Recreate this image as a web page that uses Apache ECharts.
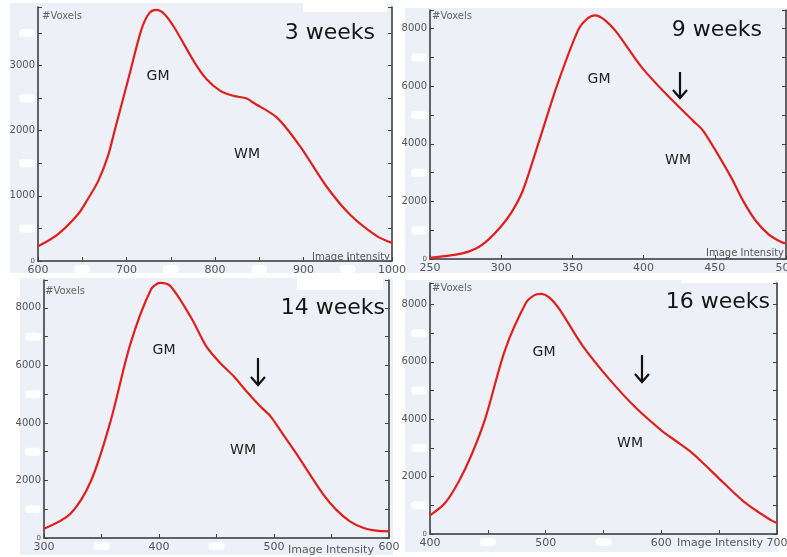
<!DOCTYPE html>
<html>
<head>
<meta charset="utf-8">
<script src="https://cdn.jsdelivr.net/npm/echarts@6/dist/echarts.min.js"></script>
<style>
html,body{margin:0;padding:0;background:#fff;}
#chart{width:787px;height:557px;}
</style>
</head>
<body>
<div id="chart"></div>
<script>
// ---------- DATA ----------
const titles = ['3 weeks', '9 weeks', '14 weeks', '16 weeks'];
const xAxisName = 'Image Intensity';
const yAxisName = '#Voxels';

const p1X = [600, 622, 645, 656, 668, 679, 686, 702, 717, 726, 734, 743, 754, 777, 790, 806, 821, 836, 843, 870, 896, 926, 953, 983, 1000];
const p1Y = [226, 405, 713, 944, 1226, 1610, 1969, 2790, 3559, 3810, 3856, 3790, 3585, 3046, 2800, 2613, 2536, 2495, 2433, 2201, 1763, 1144, 706, 381, 278];

const p2X = [250, 272, 283, 291, 300, 307, 315, 326, 339, 354, 360, 366, 373, 381, 398, 416, 435, 442, 461, 470, 479, 488, 497, 500];
const p2Y = [40, 185, 383, 672, 1136, 1600, 2354, 4000, 6000, 7950, 8330, 8460, 8290, 7880, 6700, 5720, 4790, 4440, 2880, 2010, 1310, 850, 580, 540];

const p3X = [300, 323, 341, 358, 375, 393, 401, 410, 428, 441, 453, 465, 476, 488, 497, 508, 520, 543, 554, 566, 578, 589, 600];
const p3Y = [323, 843, 1998, 4076, 6732, 8637, 8868, 8753, 7656, 6670, 6090, 5620, 5100, 4580, 4230, 3594, 2899, 1507, 986, 580, 348, 255, 232];

const p4X = [400, 413, 425, 436, 448, 465, 483, 490, 496, 503, 512, 532, 555, 578, 601, 613, 625, 636, 648, 671, 694, 700];
const p4Y = [650, 1080, 1840, 2770, 4050, 6430, 8060, 8320, 8370, 8250, 7830, 6560, 5400, 4400, 3580, 3233, 2880, 2477, 2010, 1140, 500, 380];

// tick labels
const p1XTicks = [600, 700, 800, 900, 1000];
const p1YTicks = [1000, 2000, 3000];
const p2XTicks = [250, 300, 350, 400, 450, 500];
const p2YTicks = [2000, 4000, 6000, 8000];
const p3XTicks = [300, 400, 500, 600];
const p3YTicks = [2000, 4000, 6000, 8000];
const p4XTicks = [400, 500, 600, 700];
const p4YTicks = [2000, 4000, 6000, 8000];

// erased (blob) tick positions
const p1XBlobs = [650, 750, 850, 950];
const p1YBlobs = [500, 1500, 2500, 3500];
const p2XBlobs = [];
const p2YBlobs = [1000, 3000, 5000, 7000];
const p3XBlobs = [350, 450];
const p3YBlobs = [1000, 3000, 5000, 7000];
const p4XBlobs = [450, 550];
const p4YBlobs = [1000, 3000, 5000, 7000];

const annotations = ['GM', 'WM'];

// ---------- LAYOUT ----------
const panels = [
  {x: p1X, y: p1Y, xt: p1XTicks, yt: p1YTicks, xb: p1XBlobs, yb: p1YBlobs,
   grid: {left: 38, top: 7, width: 354, height: 254}, xmin: 600, xmax: 1000, xint: 50, ymax: 3900, yint: 500,
   bg: [10, 3, 382, 270], nameInside: true, namePos: [390, 257],
   vox: [42, 16], title: [375, 33], gm: [158, 76], wm: [247, 154], arrow: null},
  {x: p2X, y: p2Y, xt: p2XTicks, yt: p2YTicks, xb: p2XBlobs, yb: p2YBlobs,
   grid: {left: 430, top: 10, width: 356, height: 249}, xmin: 250, xmax: 500, xint: 50, ymax: 8650, yint: 1000,
   bg: [405, 8, 382, 265], nameInside: true, namePos: [784, 253],
   vox: [432, 16], title: [762, 30], gm: [599, 79], wm: [678, 160], arrow: [680, 72, 98]},
  {x: p3X, y: p3Y, xt: p3XTicks, yt: p3YTicks, xb: p3XBlobs, yb: p3YBlobs,
   grid: {left: 44, top: 280, width: 345, height: 258}, xmin: 300, xmax: 600, xint: 50, ymax: 8970, yint: 1000,
   bg: [20, 278, 373, 277], nameInside: false, namePos: [331, 550],
   vox: [45, 291], title: [385, 308], gm: [164, 350], wm: [243, 450], arrow: [258, 358, 385]},
  {x: p4X, y: p4Y, xt: p4XTicks, yt: p4YTicks, xb: p4XBlobs, yb: p4YBlobs,
   grid: {left: 430, top: 283, width: 347, height: 251}, xmin: 400, xmax: 700, xint: 50, ymax: 8750, yint: 1000,
   bg: [405, 280, 373, 272], nameInside: false, namePos: [720, 543],
   vox: [432, 288], title: [770, 302], gm: [544, 352], wm: [630, 443], arrow: [642, 355, 382]}
];

const FONT = '"DejaVu Sans", Verdana, sans-serif';
const axisColor = '#333';
const labelColor = '#555';
const lineColor = '#e0201c';
const bgColor = '#eef0f7';

const grids = [], xAxes = [], yAxes = [], series = [], graphics = [];

const blobRich = {
  b: {backgroundColor: '#ffffff', width: 16, height: 8, borderRadius: 4},
  z: {fontSize: 7, color: labelColor, fontFamily: FONT}
};

panels.forEach((p, i) => {
  grids.push(Object.assign({containLabel: false, outerBoundsMode: 'none'}, p.grid));
  xAxes.push({
    type: 'value', gridIndex: i, min: p.xmin, max: p.xmax, interval: p.xint,
    axisLine: {show: true, lineStyle: {color: axisColor, width: 1.5}},
    axisTick: {show: true, inside: true, length: 4, lineStyle: {color: '#444'}},
    splitLine: {show: false},
    axisLabel: {
      show: true, margin: 4, color: labelColor, fontSize: 11, fontFamily: FONT,
      hideOverlap: false,
      formatter: v => {
        if (p.xt.indexOf(v) >= 0) return String(v);
        if (p.xb.indexOf(v) >= 0) return '{b|\u00a0}';
        return '';
      },
      rich: blobRich
    }
  });
  const yLab = {
    show: true, margin: 3, color: labelColor, fontSize: 10, fontFamily: FONT,
    formatter: v => {
      if (v === 0) return '{z|0}';
      if (p.yt.indexOf(v) >= 0) return String(v);
      if (p.yb.indexOf(v) >= 0) return '{b|\u00a0}';
      return '';
    },
    rich: blobRich
  };
  yAxes.push({
    type: 'value', gridIndex: i, min: 0, max: p.ymax, interval: p.yint, position: 'left',
    axisLine: {show: true, lineStyle: {color: axisColor, width: 1.5}},
    axisTick: {show: true, inside: true, length: 4, lineStyle: {color: '#444'}},
    splitLine: {show: false},
    axisLabel: yLab
  });
  yAxes.push({
    type: 'value', gridIndex: i, min: 0, max: p.ymax, interval: p.yint, position: 'right',
    axisLine: {show: true, lineStyle: {color: axisColor, width: 1.5}},
    axisTick: {show: true, inside: true, length: 4, lineStyle: {color: '#444'}},
    splitLine: {show: false},
    axisLabel: {show: false}
  });
  series.push({
    type: 'line', xAxisIndex: i, yAxisIndex: 2 * i,
    data: p.x.map((x, k) => [x, p.y[k]]),
    smooth: 0.3, showSymbol: false, symbol: 'none',
    lineStyle: {color: lineColor, width: 2.2},
    silent: true, animation: false
  });

  // panel background
  graphics.push({type: 'rect', z: -10, shape: {x: p.bg[0], y: p.bg[1], width: p.bg[2], height: p.bg[3]}, style: {fill: bgColor}});
  // texts
  graphics.push({type: 'text', z: 50, style: {text: yAxisName, x: p.vox[0], y: p.vox[1], font: '10px ' + FONT, fill: '#666', align: 'left', verticalAlign: 'middle'}});
  graphics.push({type: 'text', z: 50, style: {text: titles[i], x: p.title[0], y: p.title[1], font: '22px ' + FONT, fill: '#151515', align: 'right', verticalAlign: 'middle'}});
  graphics.push({type: 'text', z: 50, style: {text: annotations[0], x: p.gm[0], y: p.gm[1], font: '14px ' + FONT, fill: '#222', align: 'center', verticalAlign: 'middle'}});
  graphics.push({type: 'text', z: 50, style: {text: annotations[1], x: p.wm[0], y: p.wm[1], font: '14px ' + FONT, fill: '#222', align: 'center', verticalAlign: 'middle'}});
  if (p.nameInside) {
    graphics.push({type: 'text', z: 50, style: {text: xAxisName, x: p.namePos[0], y: p.namePos[1], font: '10px ' + FONT, fill: '#555', align: 'right', verticalAlign: 'middle'}});
  } else {
    graphics.push({type: 'text', z: 50, style: {text: xAxisName, x: p.namePos[0], y: p.namePos[1], font: '11px ' + FONT, fill: '#555', align: 'center', verticalAlign: 'middle'}});
  }
  if (p.arrow) {
    const ax = p.arrow[0], y0 = p.arrow[1], y1 = p.arrow[2];
    graphics.push({type: 'line', z: 50, shape: {x1: ax, y1: y0, x2: ax, y2: y1}, style: {stroke: '#111', lineWidth: 2.2}});
    graphics.push({type: 'polyline', z: 50, shape: {points: [[ax - 7, y1 - 8], [ax, y1], [ax + 7, y1 - 8]]}, style: {stroke: '#111', lineWidth: 2.2, fill: null}});
  }
});

// erased white patches at top-right of some panels
graphics.push({type: 'rect', z: -5, shape: {x: 303, y: 0, width: 84, height: 12}, style: {fill: '#fff'}});
graphics.push({type: 'rect', z: -5, shape: {x: 297, y: 275, width: 86, height: 15}, style: {fill: '#fff'}});
graphics.push({type: 'rect', z: -5, shape: {x: 682, y: 275, width: 93, height: 8}, style: {fill: '#fff'}});

const chart = echarts.init(document.getElementById('chart'), null, {renderer: 'canvas'});
chart.setOption({
  backgroundColor: '#ffffff',
  animation: false,
  grid: grids,
  xAxis: xAxes,
  yAxis: yAxes,
  series: series,
  graphic: {elements: graphics}
});
</script>
</body>
</html>
